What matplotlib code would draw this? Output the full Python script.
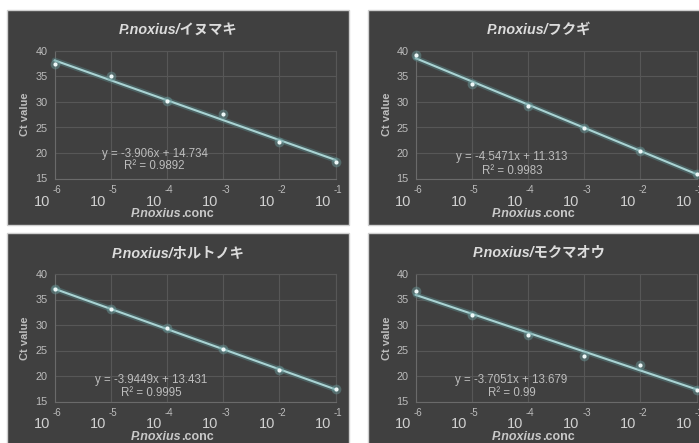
import matplotlib
matplotlib.use('Agg')
import matplotlib.pyplot as plt
import matplotlib.patheffects as pe
from matplotlib.patches import Rectangle
from matplotlib.transforms import offset_copy, blended_transform_factory

# 濃度 (10^x) と Ct 値
exponents = [-6, -5, -4, -3, -2, -1]
hosts = ['イヌマキ', 'フクギ', 'ホルトノキ', 'モクマオウ']
ct_inumaki = [37.4, 35.1, 30.2, 27.6, 22.2, 18.2]
ct_fukugi = [39.2, 33.6, 29.3, 24.9, 20.4, 15.9]
ct_horutonoki = [37.1, 33.1, 29.4, 25.2, 21.1, 17.5]
ct_mokumaou = [36.6, 32.0, 28.1, 24.0, 22.2, 17.3]
slopes = [-3.906, -4.5471, -3.9449, -3.7051]
intercepts = [14.734, 11.313, 13.431, 13.679]
slope_txt = ['-3.906', '-4.5471', '-3.9449', '-3.7051']
intercept_txt = ['14.734', '11.313', '13.431', '13.679']
r2_txt = ['0.9892', '0.9983', '0.9995', '0.99']
y_ticks = [15, 20, 25, 30, 35, 40]

series = [ct_inumaki, ct_fukugi, ct_horutonoki, ct_mokumaou]

W, H = 699, 443
fig = plt.figure(figsize=(W / 100, H / 100), dpi=100)
fig.patch.set_facecolor('white')

LAT = ['Liberation Sans', 'Noto Sans CJK JP', 'DejaVu Sans']
BG = '#404040'
GRID = '#575757'
TXT = '#bdbdbd'
LINE = '#a9d3d3'

# パネルの位置 (左上ピクセル)
panels = [(7, 10), (368, 10), (7, 233), (368, 233)]
eq_pos = [(0.356, 0.19, 0.095), (0.343, 0.168, 0.058), (0.345, 0.165, 0.066), (0.342, 0.165, 0.066)]
PW, PH = 342, 215


def fx(px):
    return px / W


def fy(py):
    return 1 - py / H


for i, (px, py) in enumerate(panels):
    fig.add_artist(Rectangle((fx(px), fy(py + PH)), PW / W, PH / H, transform=fig.transFigure,
                             facecolor=BG, edgecolor='#cfcfcf', linewidth=1.0, zorder=-5))

    ax_l, ax_t = px + 47.5, py + 41
    ax_w, ax_h = 281, 127.5
    ax = fig.add_axes([fx(ax_l), fy(ax_t + ax_h), ax_w / W, ax_h / H])
    ax.set_facecolor(BG)
    ax.set_xscale('log')
    xs = [10.0 ** e for e in exponents]
    ax.set_xlim(1e-6, 1e-1)
    ax.set_ylim(15, 40)
    ax.set_yticks(y_ticks)
    ax.set_xticks(xs)
    ax.set_xticklabels([])
    ax.minorticks_off()
    ax.tick_params(axis='x', length=0)
    ax.tick_params(axis='y', length=0, pad=5, labelsize=7.8, labelcolor=TXT)
    for lab in ax.get_yticklabels():
        lab.set_family(LAT)
    ax.grid(True, color=GRID, linewidth=0.8)
    ax.set_axisbelow(True)
    for s in ax.spines.values():
        s.set_color(GRID)
        s.set_linewidth(0.8)
    ax.spines['left'].set_color('#6a6a6a')
    ax.spines['bottom'].set_color('#6a6a6a')

    # 近似直線
    fit = [slopes[i] * e + intercepts[i] for e in exponents]
    ax.plot([xs[0], xs[-1]], [fit[0], fit[-1]], color=LINE, linewidth=1.5, solid_capstyle='round',
            path_effects=[pe.Stroke(linewidth=4, foreground='#557f80', alpha=0.5), pe.Normal()],
            zorder=3, clip_on=False)
    ax.plot(xs, series[i], 'o', markersize=7, color='#6d9e9f', alpha=0.45, markeredgewidth=0,
            zorder=4, clip_on=False)
    ax.plot(xs, series[i], 'o', markersize=3, color='#eef8f8', markeredgewidth=0, zorder=5, clip_on=False)

    ex, ey1, ey2 = eq_pos[i]
    ax.text(ex, ey1, 'y = %sx + %s' % (slope_txt[i], intercept_txt[i]), transform=ax.transAxes,
            ha='center', va='center', fontsize=8.3, color=TXT, family=LAT)
    ax.text(ex, ey2, 'R² = %s' % r2_txt[i], transform=ax.transAxes,
            ha='center', va='center', fontsize=8.3, color=TXT, family=LAT)

    # x 軸目盛 (10 と指数)
    tr = blended_transform_factory(ax.transData, fig.transFigure)
    for x, e in zip(xs, exponents):
        t10 = offset_copy(tr, fig=fig, x=-4.5, y=0, units='dots')
        fig.text(x, fy(ax_t + ax_h + 23), '10', transform=t10, ha='right', va='center',
                 fontsize=10.5, color='#d0d0d0', family=LAT)
        tex = offset_copy(tr, fig=fig, x=-2, y=0, units='dots')
        fig.text(x, fy(ax_t + ax_h + 11.5), str(e), transform=tex, ha='left', va='center',
                 fontsize=7, color=TXT, family=LAT)

    cx = px + PW / 2
    fig.text(fx(cx), fy(py + 20), 'P.noxius/' + hosts[i], ha='center', va='center',
             fontsize=10.3, fontweight='bold', fontstyle='italic', color='#dcdcdc', family=LAT)
    fig.text(fx(cx + 3), fy(ax_t + ax_h + 35), 'P.noxius', ha='right', va='center',
             fontsize=9, fontweight='bold', fontstyle='italic', color='#c8c8c8', family=LAT)
    fig.text(fx(cx + 3), fy(ax_t + ax_h + 35), '.conc', ha='left', va='center',
             fontsize=9, fontweight='bold', color='#c8c8c8', family=LAT)
    fig.text(fx(ax_l - 29), fy(ax_t + ax_h / 2), 'Ct value', ha='center', va='center', rotation=90,
             fontsize=8, fontweight='bold', color=TXT, family=LAT)

fig.savefig('out.png', dpi=100, facecolor='white')
